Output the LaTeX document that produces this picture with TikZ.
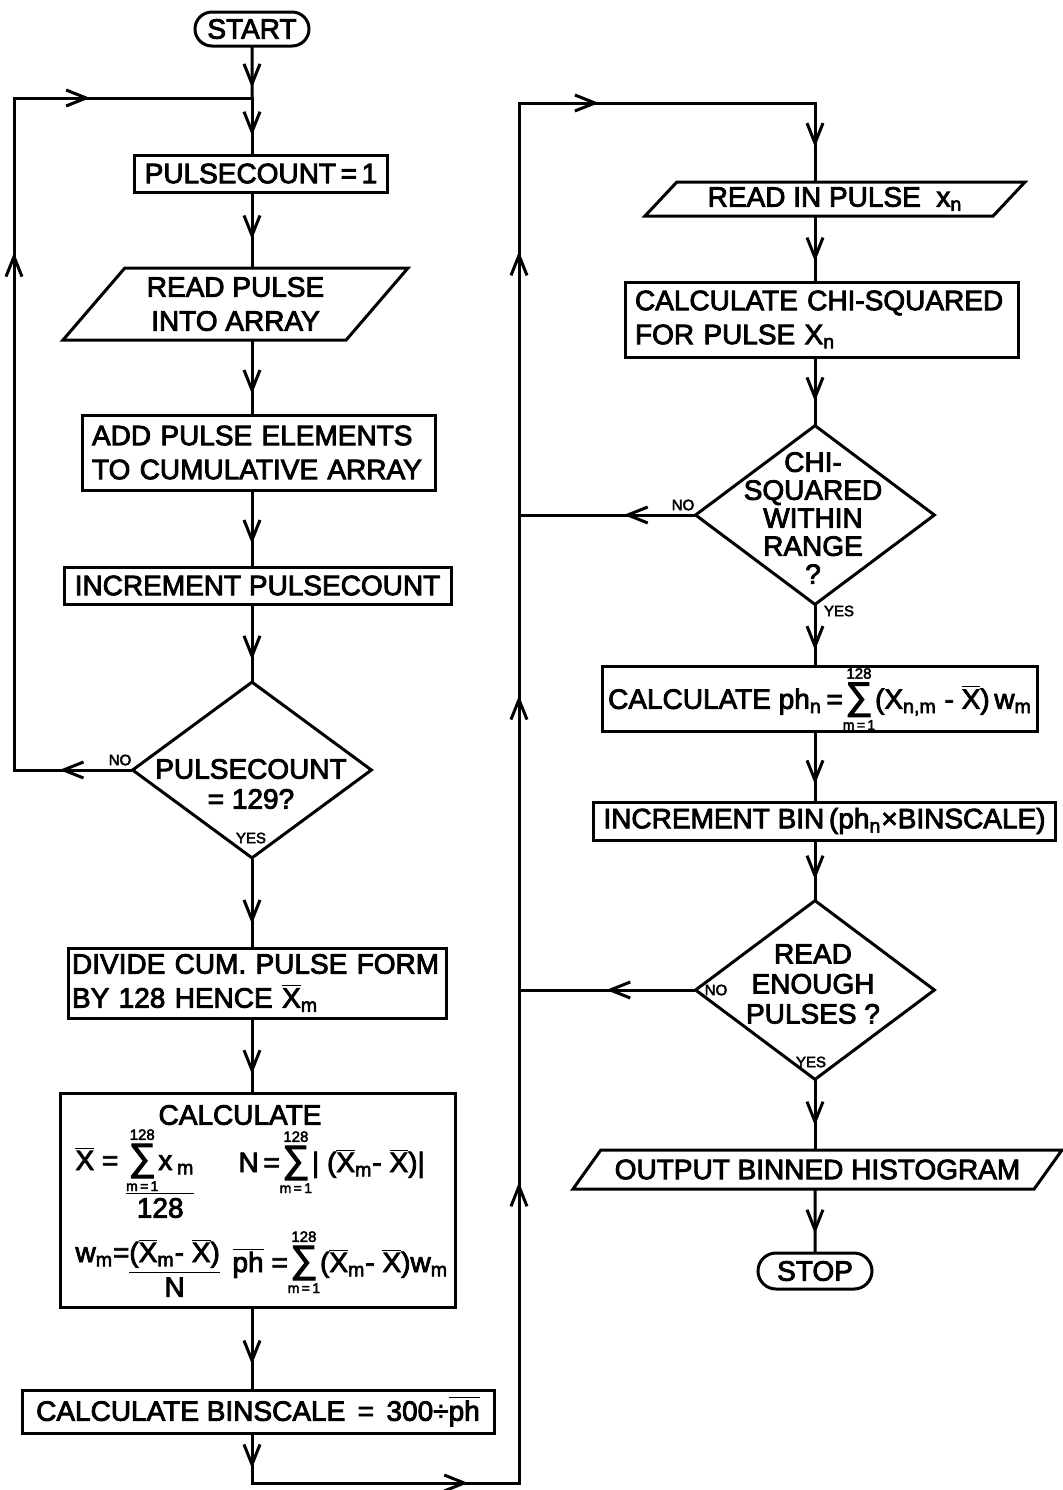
\documentclass[tikz,border=0pt]{standalone}
\usepackage{fontspec}
\setmainfont{Liberation Sans}[UprightFeatures={FakeBold=3}]
\usetikzlibrary{arrows.meta,shapes.geometric,shapes.misc,decorations.markings}

\newcommand{\xbar}{$\overline{\hbox{X}}$}
\newcommand{\phbar}{$\overline{\hbox{ph}}$}
\newcommand{\sumlim}{$\mathop{\hbox{\fontsize{19}{19}\selectfont ∑}}\limits^{\hbox{\fontsize{7.5}{7.5}\selectfont 128}}_{\hbox{\fontsize{7}{7}\selectfont m\,=\,1}}$}

\begin{document}
\begin{tikzpicture}[x=0.5pt,y=-0.5pt,font=\fontsize{14}{17}\selectfont,line width=1.5pt]
\tikzset{
	proc/.style={draw, rectangle, inner xsep=5pt, inner ysep=2pt},
	io/.style={draw, trapezium, trapezium left angle=45, trapezium right angle=135, trapezium stretches body, inner sep=2pt},
	term/.style={draw, rounded rectangle, inner sep=2pt},
	dec/.style={draw, diamond, inner sep=0pt},
	yn/.style={font=\fontsize{7.5}{8}\selectfont},
	frm/.style={anchor=base west, inner sep=0pt},
	flow/.style={line cap=rect, postaction={decorate}, decoration={markings, mark=at position #1 with {\arrow{Straight Barb[length=10pt,width=8pt]}}}},
	flow/.default=0.7
}
\useasboundingbox (0,0) rectangle (1063,1490);

% left column
\node[term, minimum width=61pt, minimum height=17pt] (start) at (252,29) {START};
\node[proc, minimum width=126pt, minimum height=18.5pt] (pc1) at (261,173.5) {PULSECOUNT\,=\,1};
\node[io, minimum width=172.5pt, minimum height=36pt, align=center] (rdp) at (235.5,304) {READ PULSE\\INTO ARRAY};
\node[proc, minimum width=176.5pt, minimum height=37.5pt, text width=166.5pt, align=left] (add) at (258.5,452.5) {ADD PULSE ELEMENTS\\TO CUMULATIVE ARRAY};
\node[proc, minimum width=193.5pt, minimum height=18.5pt] (incr) at (257.5,585.5) {INCREMENT PULSECOUNT};
\node[dec, minimum width=120pt, minimum height=88.5pt] (dec1) at (252,770) {};
\node[align=center, font=\fontsize{14}{15}\selectfont] (dec1-t) at (251,784) {PULSECOUNT\\= 129?};
\node[yn] (dec1-no) at (120,760) {NO};
\node[yn] (dec1-yes) at (251,838) {YES};
\node[proc, minimum width=189pt, minimum height=35pt, inner xsep=2pt, text width=185pt, align=left] (div) at (257,983) {DIVIDE CUM. PULSE FORM\\BY 128 HENCE \xbar\textsubscript{m}};

% calculate box
\node[proc, minimum width=197.5pt, minimum height=107pt] (calc) at (257.5,1200) {};
\node (calc-t) at (240,1115) {CALCULATE};
\node[frm] (calc-x) at (74,1170) {\xbar\ = \begin{tabular}[t]{@{}c@{}}\sumlim x\,\textsubscript{m}\\\hline 128\end{tabular}};
\node[frm] (calc-n) at (237,1172) {N\,=\sumlim| (\xbar\textsubscript{m}- \xbar)|};
\node[frm] (calc-w) at (74,1262) {w\textsubscript{m}=\begin{tabular}[t]{@{}c@{}}(\xbar\textsubscript{m}- \xbar)\\\hline N\end{tabular}};
\node[frm] (calc-p) at (231,1272) {\phbar\ =\sumlim(\xbar\textsubscript{m}- \xbar)w\textsubscript{m}};

\node[proc, minimum width=236pt, minimum height=21.5pt] (bsc) at (258,1411.5) {CALCULATE BINSCALE\ \,=\ \,300÷\phbar};

% right column
\node[io, minimum width=190pt, minimum height=17pt] (rin) at (835,199) {READ IN PULSE\ \ x\textsubscript{n}};
\node[proc, minimum width=196.5pt, minimum height=37.5pt, text width=186.5pt, align=left] (chi) at (821.5,319.5) {CALCULATE CHI-SQUARED\\FOR PULSE X\textsubscript{n}};
\node[dec, minimum width=120pt, minimum height=90pt] (dec2) at (815,515) {};
\node[align=center, font=\fontsize{14}{14}\selectfont] (dec2-t) at (813,518) {CHI-\\SQUARED\\WITHIN\\RANGE\\?};
\node[yn] (dec2-no) at (683,505) {NO};
\node[yn] (dec2-yes) at (839,611) {YES};
\node[proc, minimum width=216pt, minimum height=31pt, inner xsep=3pt, inner ysep=0pt] (phn) at (820,699) {CALCULATE ph\textsubscript{n}\,=\sumlim(X\textsubscript{n,m} - \xbar)\,w\textsubscript{m}};
\node[proc, minimum width=228.5pt, minimum height=19pt] (incbin) at (824.5,821) {INCREMENT BIN\,(ph\textsubscript{n}×BINSCALE)};
\node[dec, minimum width=120pt, minimum height=90pt] (dec3) at (815,990) {};
\node[align=center, font=\fontsize{14}{15}\selectfont] (dec3-t) at (813,984) {READ\\ENOUGH\\PULSES ?};
\node[yn] (dec3-no) at (716,990) {NO};
\node[yn] (dec3-yes) at (811,1062) {YES};
\node[io, minimum width=244.5pt, minimum height=19.5pt] (out) at (817.5,1169.5) {OUTPUT BINNED HISTOGRAM};
\node[term, minimum width=61pt, minimum height=18pt] (stop) at (815,1271) {STOP};

% corners
\coordinate (j1) at (252,98);
\coordinate (l1) at (14,770);
\coordinate (l2) at (14,98);
\coordinate (b1) at (252,1483);
\coordinate (b2) at (519,1483);
\coordinate (r1) at (519,990);
\coordinate (r2) at (519,515);
\coordinate (r3) at (519,103);
\coordinate (t1) at (815,103);

% left flow
\draw[flow=0.8] (start) -- (j1);
\draw[flow=0.68] (j1) -- (j1 |- pc1.north);
\draw[flow=0.63] (pc1.south -| j1) -- (rdp.north -| j1);
\draw[flow=0.73] (rdp.south -| j1) -- (add.north -| j1);
\draw[flow=0.71] (add.south -| j1) -- (incr.north -| j1);
\draw[flow=0.73] (incr.south -| j1) -- (dec1.north);
\draw[flow=0.74] (dec1.south) -- (div.north -| j1);
\draw[flow=0.76] (div.south -| j1) -- (calc.north -| j1);
\draw[flow=0.7] (calc.south -| j1) -- (bsc.north -| j1);

% loop back
\draw[flow=0.61] (dec1.west) -- (l1);
\draw[flow=0.77] (l1) -- (l2);
\draw[flow=0.32] (l2) -- (j1);

% across to right
\draw[flow=0.7] (bsc.south -| j1) -- (b1);
\draw[flow=0.81] (b1) -- (b2);
\draw[flow=0.61] (b2) -- (r1);
\draw[flow=0.62] (r1) -- (r2);
\draw[flow=0.64] (r2) -- (r3);
\draw[flow=0.27] (r3) -- (t1);
\draw[flow=0.57] (t1) -- (rin.north -| t1);

% right flow
\draw[flow=0.7] (rin.south -| t1) -- (chi.north -| t1);
\draw[flow=0.66] (chi.south -| t1) -- (dec2.north);
\draw[flow=0.75] (dec2.south) -- (phn.north -| t1);
\draw[flow=0.76] (phn.south -| t1) -- (incbin.north -| t1);
\draw[flow=0.67] (incbin.south -| t1) -- (dec3.north);
\draw[flow=0.66] (dec3.south) -- (out.north -| t1);
\draw[flow=0.71] (out.south -| t1) -- (stop);
\draw[flow=0.4] (dec2.west) -- (r2);
\draw[flow=0.5] (dec3.west) -- (r1);

\end{tikzpicture}
\end{document}
